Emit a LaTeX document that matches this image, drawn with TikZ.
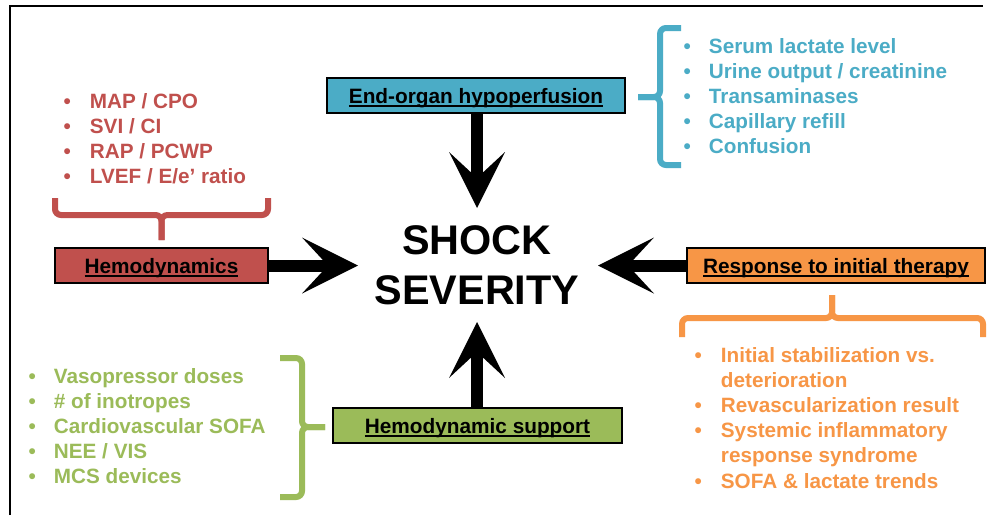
\documentclass[tikz,border=0pt]{standalone}
\usepackage{fontspec}
\setmainfont{Liberation Sans}
\usetikzlibrary{arrows.meta}
\definecolor{cred}{HTML}{C0504D}
\definecolor{cblue}{HTML}{4BACC6}
\definecolor{corange}{HTML}{F79646}
\definecolor{cgreen}{HTML}{9BBB59}
\newcommand\ulbox[1]{\setbox0\hbox{#1}\rlap{\rule[-3.5pt]{\wd0}{1.8pt}}\box0}
\begin{document}
\begin{tikzpicture}[x=1pt,y=-1pt,
  catbox/.style={draw=black, line width=2pt, minimum width=#1, minimum height=35pt,
    inner sep=0pt, font=\fontsize{20.8}{25}\selectfont\bfseries, text height=15pt, text depth=0pt},
  bigarrow/.style={line width=12pt, -{Stealth[length=56pt,width=56pt,inset=26pt,line width=0pt]}},
  brace/.style={line width=6pt, rounded corners=6pt},
  list/.style={anchor=base west, inner sep=0pt, font=\fontsize{20.7}{25.2}\selectfont\bfseries}]
\useasboundingbox (0,0) rectangle (992,515);
\fill[white] (0,0) rectangle (992,515);
% frame
\draw[line width=2pt] (10,515) -- (10,6) -- (983,6);

% category boxes
\node[catbox=213pt, fill=cred] (hemo) at (161.5,265.5) {\ulbox{Hemodynamics}};
\node[catbox=298pt, fill=cblue] (endo) at (476,95.5) {\ulbox{End-organ hypoperfusion}};
\node[catbox=298pt, fill=corange] (resp) at (836,265.5) {\ulbox{Response to initial therapy}};
\node[catbox=289pt, fill=cgreen] (hsup) at (477.5,425.5) {\ulbox{Hemodynamic support}};

% centre
\node[align=center, inner sep=0pt, font=\fontsize{41.4}{50}\selectfont\bfseries] (shock) at (477,265.5) {SHOCK\\SEVERITY};

% arrows
\coordinate (tipL) at (358,265.5);
\coordinate (tipR) at (598,265.5);
\coordinate (tipT) at (477,208);
\coordinate (tipB) at (477,322);
\draw[bigarrow] (hemo.east) -- (tipL);
\draw[bigarrow] (resp.west) -- (tipR);
\draw[bigarrow] (endo.south -| tipT) -- (tipT);
\draw[bigarrow] (hsup.north -| tipB) -- (tipB);

% braces
\draw[brace, cred] (55,198) -- (55,215) -- (161.5,215) -- (161.5,240);
\draw[brace, cred] (268,198) -- (268,215) -- (161.5,215) -- (161.5,240);
\draw[brace, cblue] (681,28) -- (660,28) -- (660,97) -- (638,97);
\draw[brace, cblue] (681,165) -- (660,165) -- (660,97) -- (638,97);
\draw[brace, cgreen] (280,358) -- (302,358) -- (302,427) -- (325,427);
\draw[brace, cgreen] (280,497) -- (302,497) -- (302,427) -- (325,427);
\draw[brace, corange] (682,337) -- (682,318) -- (832,318) -- (832,295);
\draw[brace, corange] (983,337) -- (983,318) -- (832,318) -- (832,295);

% lists
\node[list, text=cred] (hemolist) at (63.5,108) {\begin{tabular}[t]{@{}l@{\hspace{19pt}}l@{}}
•&MAP / CPO\\ •&SVI / CI\\ •&RAP / PCWP\\ •&LVEF / E/e’ ratio\end{tabular}};
\node[list, text=cblue] (endolist) at (683.5,53) {\begin{tabular}[t]{@{}l@{\hspace{18pt}}l@{}}
•&Serum lactate level\\ •&Urine output / creatinine\\ •&Transaminases\\ •&Capillary refill\\ •&Confusion\end{tabular}};
\node[list, text=cgreen] (hsuplist) at (28.5,383) {\begin{tabular}[t]{@{}l@{\hspace{18pt}}l@{}}
•&Vasopressor doses\\ •&\# of inotropes\\ •&Cardiovascular SOFA\\ •&NEE / VIS\\ •&MCS devices\end{tabular}};
\node[list, text=corange] (resplist) at (694.5,362) {\begin{tabular}[t]{@{}l@{\hspace{19pt}}l@{}}
•&Initial stabilization vs.\\ &deterioration\\ •&Revascularization result\\ •&Systemic inflammatory\\ &response syndrome\\ •&SOFA \& lactate trends\end{tabular}};
\end{tikzpicture}
\end{document}
